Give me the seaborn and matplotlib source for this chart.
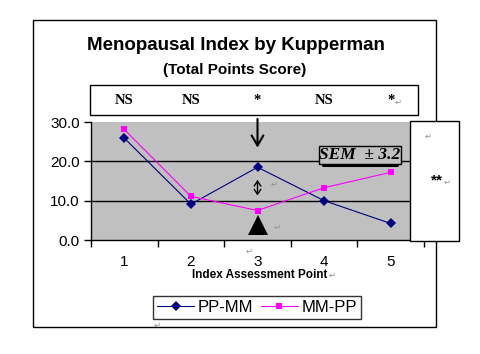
import matplotlib
matplotlib.use("Agg")
import matplotlib.pyplot as plt
from matplotlib.patches import Rectangle
import seaborn as sns
import pandas as pd

points = [1, 2, 3, 4, 5]
pp_mm = [25.9, 9.1, 18.5, 10.0, 4.2]
mm_pp = [28.1, 11.1, 7.5, 13.3, 17.2]
sig_labels = ["NS", "NS", "*", "NS", "*"]
yticks = [0, 10, 20, 30]
ytick_labels = ["0.0", "10.0", "20.0", "30.0"]

df = pd.DataFrame({
    "point": points * 2,
    "score": pp_mm + mm_pp,
    "group": ["PP-MM"] * 5 + ["MM-PP"] * 5,
})

sns.set_theme(style="white")
plt.rcParams["font.family"] = ["Liberation Sans", "DejaVu Sans"]
plt.rcParams["text.color"] = "black"
plt.rcParams["xtick.color"] = "black"
plt.rcParams["ytick.color"] = "black"
plt.rcParams["axes.labelcolor"] = "black"

W, H = 481, 354
fig = plt.figure(figsize=(W / 100, H / 100), dpi=100)

def fx(px):
    return px / W

def fy(py):
    return 1 - py / H

# outer frame
fig.patches.append(Rectangle((fx(33), fy(327)), fx(436) - fx(33), fy(20) - fy(327),
                             transform=fig.transFigure, fill=False, ec="black", lw=1.0))

ax = fig.add_axes([fx(91), fy(240), fx(424) - fx(91), fy(122) - fy(240)])
ax.set_facecolor("#C0C0C0")

sns.lineplot(data=df, x="point", y="score", hue="group", style="group",
             palette={"PP-MM": "#000080", "MM-PP": "#FF00FF"},
             markers={"PP-MM": "D", "MM-PP": "s"}, dashes=False,
             markersize=5, linewidth=0.8, markeredgewidth=0, ax=ax, legend=True)

ax.set_xlim(0.5, 5.5)
ax.set_ylim(0, 30)
for v in [10, 20]:
    ax.axhline(v, color="black", lw=1.0, zorder=1)

ax.set_yticks(yticks)
ax.set_yticklabels(ytick_labels, fontsize=11)
ax.set_xticks([0.5, 1.5, 2.5, 3.5, 4.5, 5.5])
ax.set_xticklabels([])
ax.set_xticks(points, minor=True)
ax.set_xticklabels([str(p) for p in points], minor=True, fontsize=11)
ax.tick_params(axis="x", which="major", direction="out", length=5, width=1, color="black", bottom=True)
ax.tick_params(axis="x", which="minor", length=0, pad=11)
ax.tick_params(axis="y", direction="out", length=5, width=1, color="black", left=True, pad=3)
for s in ["top", "right"]:
    ax.spines[s].set_visible(False)
for s in ["left", "bottom"]:
    ax.spines[s].set_color("black")
    ax.spines[s].set_linewidth(1.0)
ax.set_xlabel("")
ax.set_ylabel("")

# legend
handles, labels = ax.get_legend_handles_labels()
leg = ax.legend(handles, labels, loc="center", bbox_to_anchor=(fx(257), fy(307.5)),
                bbox_transform=fig.transFigure, ncol=2, frameon=True, fancybox=False,
                fontsize=12, handlelength=2.2, columnspacing=0.5, handletextpad=0.2,
                borderpad=0.25, borderaxespad=0)
leg.get_frame().set_edgecolor("black")
leg.get_frame().set_linewidth(1.0)

# annotations in data coords
ax.annotate("", xy=(3, 22.8), xytext=(3, 31.5), annotation_clip=False,
            arrowprops=dict(arrowstyle="->,head_length=0.6,head_width=0.35", color="black", lw=1.5))
ax.annotate("", xy=(3, 10.6), xytext=(3, 16.0),
            arrowprops=dict(arrowstyle="<->,head_length=0.3,head_width=0.2", color="black", lw=1.0))
ax.plot([3], [3.9], marker="^", color="black", markersize=14, markeredgewidth=0)

# title
fig.text(fx(236), fy(46), "Menopausal Index by Kupperman", ha="center", va="center",
         fontsize=13.5, fontweight="bold")
fig.text(fx(235), fy(70), "(Total Points Score)", ha="center", va="center",
         fontsize=11, fontweight="bold")

# NS box
fig.patches.append(Rectangle((fx(90), fy(115)), fx(418) - fx(90), fy(85) - fy(115),
                             transform=fig.transFigure, fill=True, fc="white", ec="black", lw=1.0))
for p, lab in zip(points, sig_labels):
    xd = ax.transData.transform((p, 0))[0]
    fig.text(xd / W, fy(101), lab, ha="center", va="center", fontsize=10.5,
             fontweight="bold", family="Liberation Serif")
fig.text(fx(398), fy(103), "\u21b5", ha="center", va="center", fontsize=6, color="#909090")

# SEM box
fig.text(fx(360), fy(155), "SEM  \u00b1 3.2", ha="center", va="center", fontsize=12.5,
         fontweight="bold", style="italic", family="Liberation Serif",
         bbox=dict(boxstyle="square,pad=0.05", fc="#C0C0C0", ec="black", lw=1.0))
fig.add_artist(plt.Line2D([fx(323), fx(397)], [fy(165), fy(165)], transform=fig.transFigure,
                          color="black", lw=2.2))

# right white box
fig.patches.append(Rectangle((fx(410), fy(241)), fx(459) - fx(410), fy(121) - fy(241),
                             transform=fig.transFigure, fill=True, fc="white", ec="black", lw=1.0,
                             zorder=5))
fig.text(fx(437), fy(180), "**", ha="center", va="center", fontsize=11, fontweight="bold",
         zorder=6)
for (px, py) in [(428, 137), (447, 183)]:
    fig.text(fx(px), fy(py), "\u21b5", ha="center", va="center", fontsize=6,
             color="#909090", zorder=6)

# grey return marks
for (px, py) in [(274, 185), (277, 228), (249, 252), (332, 276), (157, 326)]:
    fig.text(fx(px), fy(py), "\u21b5", ha="center", va="center", fontsize=6, color="#909090")

# x label
fig.text(fx(260), fy(275), "Index Assessment Point", ha="center", va="center",
         fontsize=8.5, fontweight="bold")

fig.savefig("out.png", dpi=100, facecolor="white")
